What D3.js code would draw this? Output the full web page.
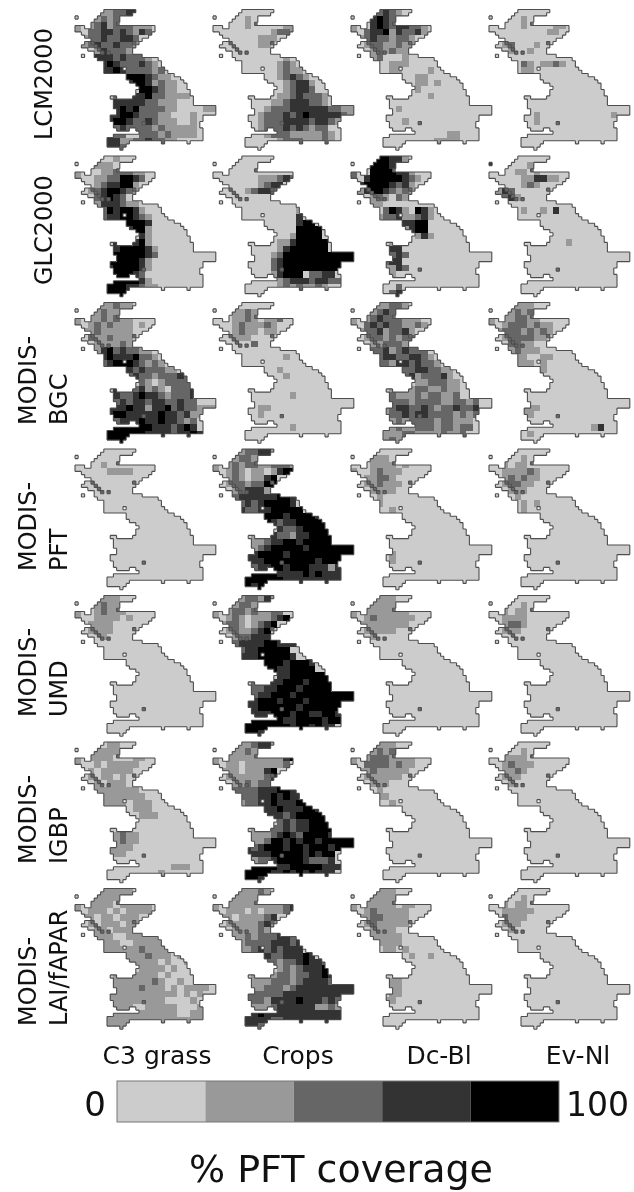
<!DOCTYPE html>
<html>
<head>
    <meta charset="utf-8">
    <title></title>
    <script src="https://d3js.org/d3.v7.min.js"></script>
<style>
body { margin: 0; background: #fff; }
svg { display: block; filter: blur(0.55px); font-family: "DejaVu Sans", sans-serif; fill: #111; }
</style>
</head>
<body>
<div id="chart-container"></div>
<script>
const pfts = ['C3 grass', 'Crops', 'Dc-Bl', 'Ev-Nl'];
const products = [['LCM2000'], ['GLC2000'], ['MODIS-', 'BGC'], ['MODIS-', 'PFT'], ['MODIS-', 'UMD'], ['MODIS-', 'IGBP'], ['MODIS-', 'LAI/fAPAR']];
const classColors = ['#cccccc', '#999999', '#666666', '#333333', '#000000'];
const barLabels = ['0', '100'];

// land runs per grid row: start, end, start, end...
const landRuns = [[9,19],[8,18],[0,1,7,14],[6,14],[5,14],[0,3,5,25],[0,25],[2,24],[3,23],[5,21],[3,20],[2,19],[4,18],[6,18],[2,3,6,21],[7,26],[9,27],[9,27],[9,15,16,28],[9,29],[16,31],[16,33],[17,34],[19,35],[20,35],[19,36],[19,36],[11,13,18,37],[12,37],[12,37],[12,44],[13,44],[13,44],[11,40],[11,40],[12,39],[12,39],[13,17,19,40],[20,40],[12,40],[10,40],[10,17,27,28,35,36],[10,16],[14,15]];
const lakes = [[13,4],[21,35],[18,10],[8,13],[10,13],[5,10],[6,11],[7,12]];

// coverage class per 2x2 block of the grid, rows
const lcmC3 = ['0000112233','0001212','1012312221110','1022332321320','0122322332','0123223221','0001322210','0003332322210','0000343222321','0000334322221200','0000000044432110','0000000034431211','0000000000443211','000000200334221111','0000003333322111','0000003434222211000011','0000033443222110001','0000034432232111001','0000002322221211111','0000002200222121111','0000033112232211','000003320'];
const lcmCrops = ['','0000010','0000010000011','0000000001221','0000000111','000000011','','0000000000010','0000000000121','000000000012110','0000000000123210','0000000000012331','0000000000012332','000000000011232221','000000000112333221','0000000012223333332211','0000000122232343333321','00000001222333323321','000000012223232122','00000000122211111210','0000000000122211121',''];
const lcmDcBl = ['0000232100','0003432','1003432332210','1023341322310','0123221221','0012211211','0001212110','000120001','000000111','0000001100001','000000000011','00000000001101','00000000001','0000000000001','','000000010','','000000001','','000000000000000110','00000000000001111',''];
const lcmEvNl = ['','000001','0000010000110','00000000011','','001200010','00010010','','0000021011210','0000011','','','','','','','0000000100000000000100','00000001','','','',''];
const glcC3 = ['0000001','0001110','1000112221100','1001122443200','0001233441','0012344321','0002343200','000133321100','00002434431','0000233443210','000000004443','000000003441','000000000031','00000030234100','00000034444310','0000004444432','000004444431','00000344443100','000000444320','00000044443100','000004443321100','000004440'];
const glcCrops = ['','','','0000000111232','00000001233','00000123321','','0000000000','00000000000001','00000000000003','0000000000000344','00000000000004444','00000000000014444','000000000011344444','000000000013444444','0000000001244444444444','0000000002344444444444','00000000023444444444','0000000001344402233','00000000001233323322','000000000012121121',''];
const glcDcBl = ['0000443310','0004443','2004444331000','2034444432100','0344443231','0134432121','0001210211','0001100','0000024310431','0000122311231','000000003344','000000001344','00000000001310','0000001','0000003300','0000002320','000002330','000001132','0000001','','00000002','00000023'];
const glcEvNl = ['','3000001','0000110100','00000113311','0000012100','0132','00231','','00000100103','','','','','0000000000001','','','','','','','',''];
const bgcC3 = ['0000112110','0001211','1011212110000','1012121110100','0112111110','0021121110','0001111211','000134232211','00003433342210','00002344432121','0000000032322211','000000002322122232','000000000021012222','0000003002312102223','0000003223433212223','0000002323323322322','0000033343313342322111','00000344333334332311','0000002333433433212','0000004444443332343','00000444444333323343','00000444'];
const bgcCrops = ['','0001121','00011210112','00012111210','0001211011','000111','0000002','','000000000001','','00000000001','000000000001','','','0000000000001','','0000000110','00000001','','0000000000001','',''];
const bgcDcBl = ['0000112210','0001232','1012322211100','1023232211210','0122312231','0012212122','0001122211','0002231232220','0000233223321','00002213323221','0000000022332211','0000000023122231','00000000001122211','00000010012211211','00000021112122112','00000022212222112212','00000123322321223223','00000122323322221212','0000001212222122111','0000001211222122122','000001112211112112','00000121'];
const bgcEvNl = ['0000111','0001212','101122110','1012221211','0122212121','001222211','0002211','00012111','0000110011','000011101','000000001','','','','','','00000111','0000011','','000000000000000013','0000001',''];
const pftC3 = ['','','00001','0000011110','','','','','','','','','','','','','','','','','',''];
const pftCrops = ['0000122331','0001221','1012122112221','1012101101344','0012101134','0012212244','0001233310','0002333333443','0000232344443','00003223344444','00000000444344443','000000004323344444','000000000032234444','0000001003221334444','0000001123344344444','0000001234444434444444','0000033444434444444444','00000333444444443444','000000233443444333133','000000444433334343333','00000444444333333333','00000434'];
const pftDcBl = ['','000111','000111101','100121110','00112210','00112111','0001111','00001','00001','0000001','','','','','','','00000010','00000010','','','',''];
const pftEvNl = ['','0000010','0010110','0011112100','00121211','0012211','000111','00001','00000101','000001','','','','','','','','','','','',''];
const umdC3 = ['0000111','0001211','10012111','100111101','0011110','0011110','00001','','','','','','','','','','','','','','',''];
const umdCrops = ['0000122131','0001221','10122121122','101210111234','0122101234','001211234','000122333','0002333344333','000023344444','0000333444443','0000000044434443','0000000044334444','000000000033444444','0000002003344434444','0000002233444344444','0000002334443444444444','0000033444344434444444','00000334444443444444','000000333444344334433','00000044444334444344','0000044444443443433','00000443'];
const umdDcBl = ['0000111','0001111','101111111','1012111111','011111111','00111110','00010','','','','','','','','','','','','','','',''];
const umdEvNl = ['','000001','001011','001111','001221','00111','','','','','','','','','','','','','','','',''];
const igbpC3 = ['0000011','0001111','10111100011','10010111110','001011111','00101101','00010111','00011111110','000011111110','0000111101110','000000000111','0000000000111','','','0000001211','0000001211','000001111','00000111','','000000000000000111','00000000000001',''];
const igbpCrops = ['0000112331','0001121','1011111111134','101101111112','0111011134','0011111123','0001121221','0002222333443','00002223343433','000012233433344','00000000334333443','000000003332344444','000000000023233444','0000001002232334444','0000001112343244443','0000001124434344344444','0000032344434434443444','0000033334444434344','0000001223444432223','000000444433444443333','0000044443343434333','00000443'];
const igbpDcBl = ['0000111','0001212','1012221111','1022221211','011211111','00111111','000111','00001','000011','0000001','','','','','','','','','','','',''];
const igbpEvNl = ['','000001','001111','0012111','001121','00111','0001','','','','','','','','','','','','','','',''];
const laiC3 = ['000011111','0001111','1011110111110','1011101011110','0110110111','0010111011','0001101111','0001110011111','00001110011111','000011111121111','00000000111211101','000000001111101001','000000000011110100','00000010011110100','0000001111112100100','0000001111211101011110','00000111111111110101001','0000011111111100001 1','00000011100111110001','0000001111111111 011','00000111111111111111','00000111'];
const laiCrops = ['0000111210','0001111','1011111111123','1011101011123','0110111123','0011111231','0001111211','0001121222332','00001222233323','00001123232333','0000000032233343','000000002212234332','000000000012123334','0000001001221223343','0000001112221233332','0000001122212333333333','0000022222233333333333','00000222133334333232','00000011123333331121','00000034333333333333','00000333322333333333','00000332'];
const laiDcBl = ['0000111','0001111','10111110110','1012111110','011221111','001211111','0001111','000111110','000011110','000001101','0000000001001','','','','00000011','00000011','00000011','0000011','','','',''];
const laiEvNl = ['','000001','001011','0011111','002111','00111','0001','','','','','','','','','','','','','','',''];

const panels = [
    [lcmC3, lcmCrops, lcmDcBl, lcmEvNl],
    [glcC3, glcCrops, glcDcBl, glcEvNl],
    [bgcC3, bgcCrops, bgcDcBl, bgcEvNl],
    [pftC3, pftCrops, pftDcBl, pftEvNl],
    [umdC3, umdCrops, umdDcBl, umdEvNl],
    [igbpC3, igbpCrops, igbpDcBl, igbpEvNl],
    [laiC3, laiCrops, laiDcBl, laiEvNl]
];

const width = 634, height = 1192;
const svg = d3.select('#chart-container').append('svg')
    .attr('width', width).attr('height', height);

const gridSize = 44;
const col = d3.scaleBand().domain(d3.range(gridSize)).range([0, 140.8]);
const row = d3.scaleBand().domain(d3.range(gridSize)).range([0, 140.8]);
const panelX = d3.scaleBand().domain(d3.range(pfts.length)).range([75, 75 + 138 * pfts.length]);
const panelY = d3.scaleBand().domain(d3.range(products.length)).range([9.5, 9.5 + 146.5 * products.length]);
const color = d3.scaleOrdinal().domain(d3.range(5)).range(classColors);

// build land cells from the runs
const isLand = (c, r) => {
    const runs = landRuns[r];
    if (!runs) return false;
    if (lakes.some(l => l[0] === c && l[1] === r)) return false;
    for (let i = 0; i < runs.length; i += 2) {
        if (c >= runs[i] && c < runs[i + 1]) return true;
    }
    return false;
};
const landCells = [];
d3.range(gridSize).forEach(r => d3.range(gridSize).forEach(c => {
    if (isLand(c, r)) landCells.push({c, r});
}));

// coastline: every cell edge between land and sea
const coast = d3.path();
const s = col.bandwidth();
landCells.forEach(({c, r}) => {
    const x = col(c), y = row(r);
    if (!isLand(c, r - 1)) { coast.moveTo(x, y); coast.lineTo(x + s, y); }
    if (!isLand(c, r + 1)) { coast.moveTo(x, y + s); coast.lineTo(x + s, y + s); }
    if (!isLand(c - 1, r)) { coast.moveTo(x, y); coast.lineTo(x, y + s); }
    if (!isLand(c + 1, r)) { coast.moveTo(x + s, y); coast.lineTo(x + s, y + s); }
});

panels.forEach((rowPanels, i) => {
    rowPanels.forEach((values, j) => {
        const g = svg.append('g')
            .attr('transform', `translate(${panelX(j)},${panelY(i)})`);
        g.selectAll('.cell')
            .data(landCells)
            .join('rect')
            .attr('class', 'cell')
            .attr('x', d => col(d.c))
            .attr('y', d => row(d.r))
            .attr('width', s)
            .attr('height', s)
            .attr('shape-rendering', 'crispEdges')
            .attr('fill', d => color(+((values[d.r >> 1] || '')[d.c >> 1] || 0)));
        // lakes show up as small dark dots
        g.selectAll('.lake')
            .data(lakes)
            .join('rect')
            .attr('class', 'lake')
            .attr('x', d => col(d[0]))
            .attr('y', d => row(d[1]))
            .attr('width', s)
            .attr('height', s)
            .attr('fill', '#6a6a6a');
        g.append('path')
            .attr('d', coast.toString())
            .attr('fill', 'none')
            .attr('stroke', '#4d4d4d')
            .attr('stroke-width', 1.1);
    });
});

// product labels down the left side
const labelBottom = [140, 285, 425, 571, 717, 864, 1026];
products.forEach((lines, i) => {
    const xs = lines.length === 1 ? [52] : [36, 67];
    lines.forEach((t, k) => {
        svg.append('text')
            .attr('transform', `translate(${xs[k]},${labelBottom[i]}) rotate(-90)`)
            .attr('font-size', 24)
            .text(t);
    });
});

// pft labels
const pftCenters = [157, 298, 439, 578];
svg.selectAll('.pft')
    .data(pfts)
    .join('text')
    .attr('class', 'pft')
    .attr('x', (d, i) => pftCenters[i])
    .attr('y', 1064)
    .attr('text-anchor', 'middle')
    .attr('font-size', 25)
    .text(d => d);

// colour bar
const bar = d3.scaleBand().domain(d3.range(5)).range([117, 559]);
svg.selectAll('.bar')
    .data(classColors)
    .join('rect')
    .attr('class', 'bar')
    .attr('x', (d, i) => bar(i))
    .attr('y', 1081)
    .attr('width', bar.bandwidth())
    .attr('height', 41)
    .attr('fill', d => d);
svg.append('rect')
    .attr('x', 117).attr('y', 1081)
    .attr('width', 442).attr('height', 41)
    .attr('fill', 'none')
    .attr('stroke', '#777')
    .attr('stroke-width', 1);
svg.append('text').attr('x', 106).attr('y', 1116).attr('text-anchor', 'end')
    .attr('font-size', 34).text(barLabels[0]);
svg.append('text').attr('x', 566).attr('y', 1116)
    .attr('font-size', 33).text(barLabels[1]);
svg.append('text').attr('x', 341).attr('y', 1182).attr('text-anchor', 'middle')
    .attr('font-size', 38).text('% PFT coverage');
</script>
</body>
</html>
